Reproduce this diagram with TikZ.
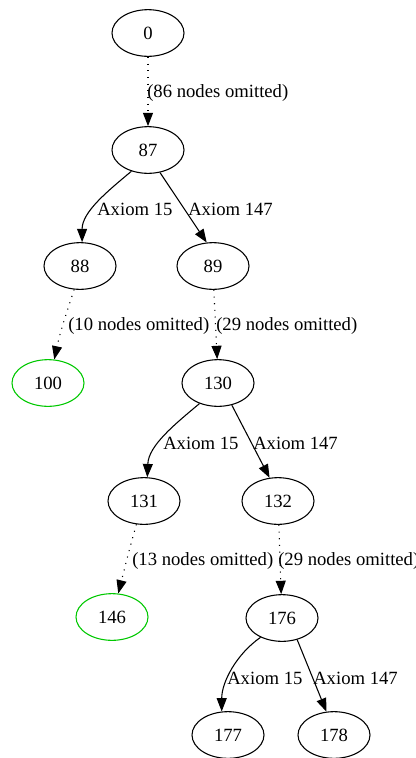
\documentclass[tikz,border=0pt]{standalone}
\usepackage{fontspec}
\setmainfont{Liberation Serif}
\usetikzlibrary{shapes.geometric,arrows.meta}
\definecolor{goal}{RGB}{0,200,0}
\tikzset{
  state/.style={draw, ellipse, line width=0.8pt, minimum width=54pt, minimum height=35pt, inner sep=0pt, font=\fontsize{14}{16}\selectfont},
  found/.style={state, draw=goal},
  tip/.style={-{Triangle[length=10pt,width=7.5pt]}},
  move/.style={tip, line width=0.8pt},
  skip/.style={tip, line width=0.8pt, dash pattern=on 0.8pt off 4.2pt},
  lbl/.style={anchor=west, inner sep=0pt, font=\fontsize{14}{16}\selectfont}
}
\begin{document}
\begin{tikzpicture}[x=0.75pt, y=-0.75pt]
\useasboundingbox (0,0) rectangle (416,758);
% states
\node[state] (n0)   at (148,33)  {0};
\node[state] (n87)  at (148,150) {87};
\node[state] (n88)  at (80,266)  {88};
\node[state] (n89)  at (213,266) {89};
\node[found] (n100) at (48,383)  {100};
\node[state] (n130) at (218,383) {130};
\node[state] (n131) at (144,501) {131};
\node[state] (n132) at (278,501) {132};
\node[found] (n146) at (112,617) {146};
\node[state] (n176) at (282,618) {176};
\node[state] (n177) at (228,735) {177};
\node[state] (n178) at (334,735) {178};
% transitions
\draw[skip] (n0.south) -- (n87.north);
\draw[move] (n87.232) to[out=-140, in=90, looseness=0.9] (n88.85);
\draw[move] (n87.-62) -- (n89.105);
\draw[skip] (n88.-104) to[out=-108, in=78] (n100.75);
\draw[skip] (n89.-88) -- (n130.92);
\draw[move] (n130.228) to[out=-140, in=88, looseness=0.9] (n131.82);
\draw[move] (n130.-58) -- (n132.110);
\draw[skip] (n131.-108) to[out=-106, in=76] (n146.75);
\draw[skip] (n132.-88) -- (n176.92);
\draw[move] (n176.222) to[out=-145, in=90, looseness=0.9] (n177.105);
\draw[move] (n176.-55) -- (n178.108);
% edge labels
\node[lbl] (l1)  at (147,93)  {(86 nodes omitted)};
\node[lbl] (l2)  at (97,209)  {Axiom 15};
\node[lbl] (l3)  at (188,209) {Axiom 147};
\node[lbl] (l4)  at (68,326)  {(10 nodes omitted)};
\node[lbl] (l5)  at (216,326) {(29 nodes omitted)};
\node[lbl] (l6)  at (163,443) {Axiom 15};
\node[lbl] (l7)  at (253,443) {Axiom 147};
\node[lbl] (l8)  at (132,561) {(13 nodes omitted)};
\node[lbl] (l9)  at (278,561) {(29 nodes omitted)};
\node[lbl] (l10) at (227,678) {Axiom 15};
\node[lbl] (l11) at (313,678) {Axiom 147};
\end{tikzpicture}
\end{document}
